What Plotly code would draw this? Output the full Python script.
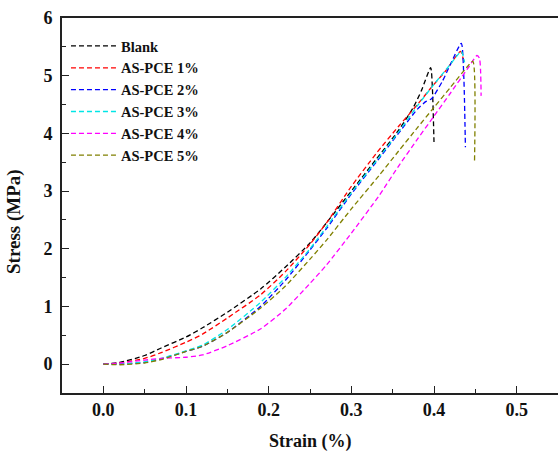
import plotly.graph_objects as go

# ---- data (strain, stress) ----
names = ["Blank", "AS-PCE 1%", "AS-PCE 2%", "AS-PCE 3%", "AS-PCE 4%", "AS-PCE 5%"]
colors = ["#000000", "#FF0000", "#0000FF", "#00E6E6", "#FF00FF", "#808000"]

blank_x = [0.0, 0.02, 0.05, 0.07, 0.1, 0.12, 0.15, 0.19, 0.22, 0.25, 0.27, 0.3, 0.33, 0.357, 0.375, 0.385, 0.396, 0.398, 0.4]
blank_y = [0.0, 0.03, 0.15, 0.28, 0.47, 0.63, 0.9, 1.3, 1.68, 2.1, 2.45, 3.0, 3.55, 4.05, 4.45, 4.75, 5.14, 4.8, 3.85]

pce1_x = [0.0, 0.02, 0.05, 0.07, 0.1, 0.12, 0.15, 0.19, 0.22, 0.25, 0.27, 0.3, 0.33, 0.357, 0.38, 0.397, 0.415, 0.432, 0.436]
pce1_y = [0.0, 0.02, 0.1, 0.2, 0.38, 0.52, 0.8, 1.2, 1.6, 2.08, 2.45, 3.08, 3.65, 4.12, 4.5, 4.8, 5.1, 5.42, 5.25]

pce2_x = [0.0, 0.02, 0.05, 0.07, 0.1, 0.12, 0.15, 0.19, 0.22, 0.25, 0.27, 0.3, 0.33, 0.357, 0.38, 0.39, 0.397, 0.41, 0.42, 0.433, 0.436, 0.438]
pce2_y = [0.0, 0.0, 0.03, 0.09, 0.22, 0.31, 0.55, 1.0, 1.45, 1.98, 2.35, 2.95, 3.5, 4.0, 4.42, 4.55, 4.6, 4.9, 5.2, 5.56, 5.0, 3.76]

pce3_x = [0.0, 0.02, 0.05, 0.07, 0.1, 0.12, 0.15, 0.19, 0.22, 0.25, 0.27, 0.3, 0.33, 0.357, 0.38, 0.4, 0.42, 0.433, 0.437]
pce3_y = [0.0, 0.0, 0.04, 0.1, 0.23, 0.33, 0.6, 1.07, 1.5, 2.0, 2.38, 2.97, 3.52, 4.02, 4.48, 4.85, 5.2, 5.42, 5.23]

pce4_x = [0.0, 0.02, 0.05, 0.07, 0.1, 0.12, 0.15, 0.19, 0.22, 0.25, 0.27, 0.3, 0.333, 0.357, 0.38, 0.4, 0.42, 0.442, 0.452, 0.455, 0.457]
pce4_y = [0.0, 0.02, 0.07, 0.1, 0.12, 0.16, 0.32, 0.61, 0.95, 1.4, 1.72, 2.27, 2.91, 3.43, 3.9, 4.3, 4.7, 5.15, 5.35, 5.3, 4.65]

pce5_x = [0.0, 0.02, 0.05, 0.07, 0.1, 0.12, 0.15, 0.19, 0.22, 0.25, 0.27, 0.3, 0.333, 0.357, 0.38, 0.4, 0.42, 0.44, 0.447, 0.449]
pce5_y = [0.0, -0.01, 0.02, 0.08, 0.22, 0.31, 0.55, 0.97, 1.35, 1.82, 2.15, 2.69, 3.26, 3.69, 4.1, 4.45, 4.8, 5.15, 5.25, 3.5]

series_x = [blank_x, pce1_x, pce2_x, pce3_x, pce4_x, pce5_x]
series_y = [blank_y, pce1_y, pce2_y, pce3_y, pce4_y, pce5_y]

x_ticks = [0.0, 0.1, 0.2, 0.3, 0.4, 0.5]
y_ticks = [0, 1, 2, 3, 4, 5, 6]

FONT = "Liberation Serif, Times New Roman, serif"

fig = go.Figure()
for nm, c, xs, ys in zip(names, colors, series_x, series_y):
    fig.add_trace(go.Scatter(
        x=xs, y=ys, name=nm, mode="lines",
        line=dict(color=c, width=1.3, dash="5px,3px", shape="spline", smoothing=0.6),
    ))

axis_common = dict(
    showgrid=False, zeroline=False,
    showline=True, linecolor="#222222", linewidth=1.6,
    ticks="inside", ticklen=7, tickwidth=1.3, tickcolor="#222222",
    tickfont=dict(family=FONT, size=18, color="#111111", weight="bold"),
)

fig.update_xaxes(
    range=[-0.05, 0.55], tickvals=x_ticks,
    ticktext=[f"{v:.1f}" for v in x_ticks],
    minor=dict(dtick=0.05, tick0=0, ticks="inside", ticklen=4, tickwidth=1.2, tickcolor="#222222"),
    mirror=True,
    **axis_common,
)
fig.update_yaxes(
    range=[-0.5, 6], tickvals=y_ticks,
    ticktext=[str(v) for v in y_ticks],
    minor=dict(dtick=0.5, tick0=0, ticks="inside", ticklen=4, tickwidth=1.2, tickcolor="#222222"),
    ticklabelstandoff=4,
    **axis_common,
)

fig.update_layout(
    width=558, height=451,
    margin=dict(l=62, r=0, t=18, b=58),
    paper_bgcolor="white", plot_bgcolor="white",
    showlegend=True,
    legend=dict(
        x=0.008, y=(393 - 30) / 375, xanchor="left", yanchor="top",
        bgcolor="rgba(0,0,0,0)", borderwidth=0,
        font=dict(family=FONT, size=14.5, color="#111111", weight="bold"),
        itemwidth=45, tracegroupgap=0,
    ),
    annotations=[
        dict(text="<b>Strain (%)</b>", xref="paper", yref="paper",
             x=0.5, y=(393 - 441) / 375, xanchor="center", yanchor="middle",
             showarrow=False, font=dict(family=FONT, size=18, color="#111111")),
        dict(text="<b>Stress (MPa)</b>", xref="paper", yref="paper",
             x=(14 - 62) / 496, y=(393 - 222) / 375, xanchor="center", yanchor="middle",
             textangle=-90, showarrow=False, font=dict(family=FONT, size=19, color="#111111")),
    ],
)

fig.write_html(
    "out.html",
    config={"displayModeBar": False},
    post_script="document.body.style.margin='0';document.body.style.padding='0';document.body.style.overflow='hidden';",
)
